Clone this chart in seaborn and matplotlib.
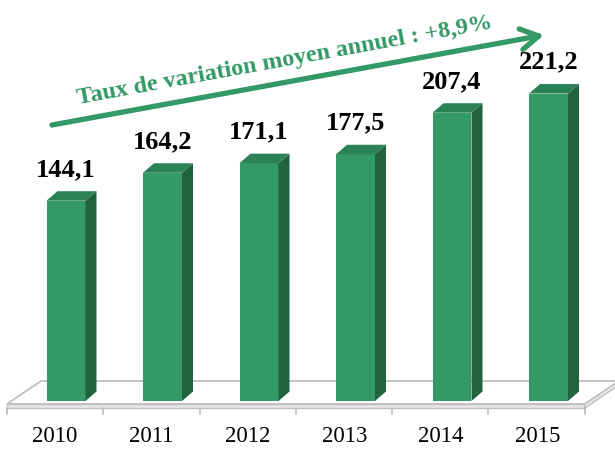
import numpy as np
import matplotlib
matplotlib.use("Agg")
import matplotlib.pyplot as plt
from matplotlib.patches import Polygon
import seaborn as sns

# ---- data ----
years = ["2010", "2011", "2012", "2013", "2014", "2015"]
values = [144.1, 164.2, 171.1, 177.5, 207.4, 221.2]
value_labels = ["144,1", "164,2", "171,1", "177,5", "207,4", "221,2"]
trend_label = "Taux de variation moyen annuel : +8,9%"

# ---- styling / geometry (pixels of the 615x454 canvas) ----
W, H = 615, 454
X0, P = 66.0, 96.5      # pixel x of first bar centre, pixels per category
Y0, S = 401.0, 1.39     # pixel y of bar base, pixels per value unit
BAR_W = 39 / P
DX, DY = 11 / P, 9.5 / S  # depth offset of the 3D faces (data units)

FRONT = "#339966"
SIDE = "#21633f"
TOP = "#2a8256"
TEXT_GREEN = "#339966"
FLOOR = "#bfbfbf"


def px(x, y):
    """pixel -> data coordinates"""
    return (x - X0) / P, (Y0 - y) / S


sns.set_style("white")
plt.rcParams["font.family"] = ["Liberation Serif", "DejaVu Serif"]

fig = plt.figure(figsize=(W / 100, H / 100), dpi=100)
ax = fig.add_axes([0, 0, 1, 1])

sns.barplot(x=years, y=values, color=FRONT, width=BAR_W, saturation=1,
            edgecolor="none", ax=ax, zorder=3)

ax.set_xlim(-X0 / P, (W - X0) / P)
ax.set_ylim((Y0 - H) / S, Y0 / S)
ax.axis("off")

# floor (a thin slab)
fl, fr, br, bl = px(7, 404), px(585, 404), px(619, 381), px(41, 381)
ax.add_patch(Polygon([fl, fr, br, bl], closed=True, facecolor="white",
                     edgecolor=FLOOR, lw=1.3, zorder=1))
fl2, fr2, br2 = px(7, 408), px(585, 408), px(619, 385)
ax.add_patch(Polygon([fl, fr, fr2, fl2], closed=True, facecolor="#e8e8e8",
                     edgecolor=FLOOR, lw=1.0, zorder=1))
ax.add_patch(Polygon([fr, br, br2, fr2], closed=True, facecolor="#e8e8e8",
                     edgecolor=FLOOR, lw=1.0, zorder=1))
for k in range(len(years) + 1):
    tx0, ty0 = px(7 + 96.3 * k, 408)
    tx1, ty1 = px(7 + 96.3 * k, 414)
    ax.plot([tx0, tx1], [ty0, ty1], color=FLOOR, lw=1.3, zorder=1)

# 3D side and top faces, labels
for bar, lab in zip(ax.patches, value_labels):
    x, w, h = bar.get_x(), bar.get_width(), bar.get_height()
    ax.add_patch(Polygon([(x + w, 0), (x + w + DX, DY), (x + w + DX, h + DY), (x + w, h)],
                         closed=True, facecolor=SIDE, edgecolor="none", zorder=3))
    ax.add_patch(Polygon([(x, h), (x + DX, h + DY), (x + w + DX, h + DY), (x + w, h)],
                         closed=True, facecolor=TOP, edgecolor="none", zorder=3))
    ax.annotate(lab, (x + w / 2, h + DY), xytext=(0, 11), textcoords="offset points",
                ha="center", va="baseline", fontsize=19, fontweight="bold", color="black")

# category labels
for i, yr in enumerate(years):
    lx, ly = px(X0 + P * i - 11, 437)
    ax.text(lx, ly, yr, ha="center", va="center", fontsize=16.5, color="black")

# trend arrow and text
a0, a1 = px(52, 125), px(544, 35)
ax.annotate("", xy=a1, xytext=a0,
            arrowprops=dict(arrowstyle="->, head_length=1.3, head_width=0.75",
                            color=TEXT_GREEN, lw=3.8, shrinkA=0, shrinkB=0),
            zorder=4)
tx, ty = px(285, 61)
ang = np.degrees(np.arctan2(125 - 35, 544 - 52))
ax.text(tx, ty, trend_label, rotation=ang, rotation_mode="anchor",
        ha="center", va="center", fontsize=17.5, fontweight="bold", color=TEXT_GREEN)

fig.savefig("out.png", dpi=100)
